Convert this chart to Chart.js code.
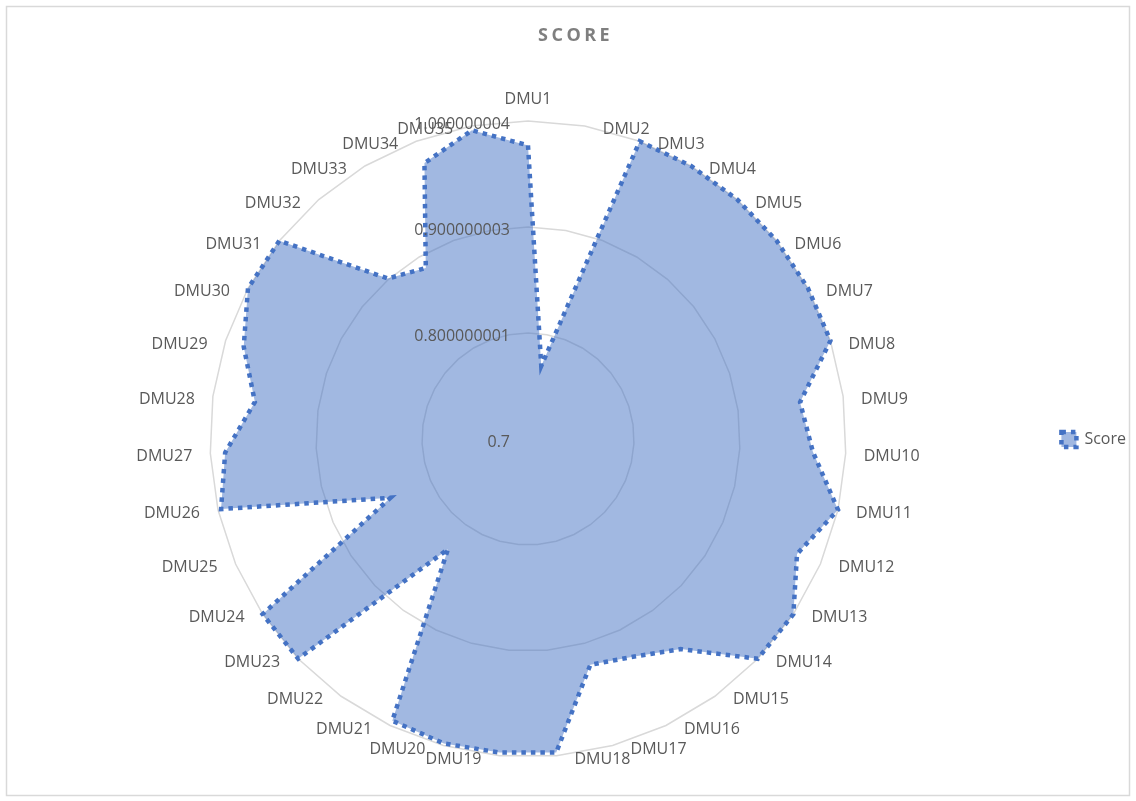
<!DOCTYPE html>
<html>
<head>
<meta charset="utf-8">
<title>Score</title>
<script src="https://cdn.jsdelivr.net/npm/chart.js@4.4.0/dist/chart.umd.min.js"></script>
<style>
  body { margin: 0; background: #fff; }
</style>
</head>
<body>
<canvas id="radar" width="1136" height="801"></canvas>
<script>
const labels = ['DMU1', 'DMU2', 'DMU3', 'DMU4', 'DMU5', 'DMU6', 'DMU7', 'DMU8', 'DMU9', 'DMU10',
    'DMU11', 'DMU12', 'DMU13', 'DMU14', 'DMU15', 'DMU16', 'DMU17', 'DMU18', 'DMU19', 'DMU20',
    'DMU21', 'DMU22', 'DMU23', 'DMU24', 'DMU25', 'DMU26', 'DMU27', 'DMU28', 'DMU29', 'DMU30',
    'DMU31', 'DMU32', 'DMU33', 'DMU34', 'DMU35'];
const scores = [0.977, 0.77, 1, 1, 1, 1, 1, 1, 0.959, 0.969,
    1, 0.976, 1, 1, 0.945, 0.928, 0.921, 0.997, 0.997, 0.998,
    0.995, 0.8285, 1, 1, 0.841, 0.997, 0.986, 0.96, 0.982, 1,
    1, 0.901, 0.888, 0.978, 0.996];
const tickValues = [0.7, 0.800000001, 0.900000003, 1.000000004];
const tickLabels = ['0.7', '0.800000001', '0.900000003', '1.000000004'];
const titulo = 'SCORE';
const nomeSerie = 'Score';

Chart.defaults.font.family = '"Open Sans", sans-serif';

// moldura, titulo e rotulos no estilo do Excel
const extras = {
    id: 'extras',
    beforeDraw: (chart) => {
        const ctx = chart.ctx;
        ctx.save();
        ctx.strokeStyle = '#d9d9d9';
        ctx.lineWidth = 1.5;
        ctx.strokeRect(6.5, 6.5, 1123, 789);
        ctx.restore();
    },
    afterDatasetsDraw: (chart) => {
        const ctx = chart.ctx;
        const r = chart.scales.r;
        ctx.save();
        ctx.font = '16px "Open Sans"';
        ctx.fillStyle = '#595959';
        ctx.textBaseline = 'alphabetic';

        ctx.textAlign = 'right';
        tickValues.forEach((v, i) => {
            const y = r.yCenter - r.getDistanceFromCenterForValue(v);
            ctx.fillText(tickLabels[i], r.xCenter - 18, y + 8);
        });

        labels.forEach((nome, i) => {
            const p = r.getPointPosition(i, r.drawingArea);
            const ang = r.getIndexAngle(i) * 180 / Math.PI;
            if (ang < 0.5 || ang > 359.5) {
                ctx.textAlign = 'center';
                ctx.fillText(nome, p.x, p.y - 17);
            } else if (ang < 180) {
                ctx.textAlign = 'left';
                ctx.fillText(nome, p.x + 18, p.y + 8);
            } else {
                ctx.textAlign = 'right';
                ctx.fillText(nome, p.x - 18, p.y + 8);
            }
        });

        ctx.font = 'bold 18px "Open Sans"';
        ctx.fillStyle = '#7f7f7f';
        ctx.letterSpacing = '3.5px';
        ctx.textAlign = 'left';
        ctx.fillText(titulo, 538, 41);
        ctx.restore();
    }
};

const config = {
    type: 'radar',
    data: {
        labels: labels,
        datasets: [{
            label: nomeSerie,
            data: scores,
            backgroundColor: 'rgba(68, 114, 196, 0.5)',
            borderColor: '#4472c4',
            borderWidth: 4.5,
            borderDash: [4.5, 5],
            fill: true,
            pointRadius: 0,
            pointHoverRadius: 0,
        }]
    },
    options: {
        responsive: false,
        animation: false,
        layout: {
            padding: { top: 121, bottom: 43, left: 4, right: 0 }
        },
        scales: {
            r: {
                min: 0.7,
                max: 1.000000004,
                afterBuildTicks: (scale) => {
                    scale.ticks = tickValues.map(v => ({ value: v }));
                },
                ticks: { display: false },
                pointLabels: { display: false },
                angleLines: { display: false },
                grid: { color: '#d9d9d9', lineWidth: 1.5 }
            }
        },
        plugins: {
            legend: {
                position: 'right',
                labels: {
                    boxWidth: 15,
                    boxHeight: 15,
                    padding: 8,
                    color: '#595959',
                    font: { size: 16 }
                }
            },
            tooltip: { enabled: false }
        }
    },
    plugins: [extras]
};

const myChart = new Chart(document.getElementById('radar'), config);
</script>
</body>
</html>
